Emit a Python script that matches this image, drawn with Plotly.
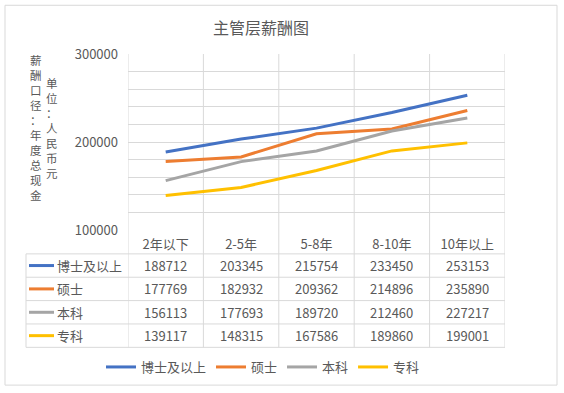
import plotly.graph_objects as go

categories = ["2年以下", "2-5年", "5-8年", "8-10年", "10年以上"]
series_names = ["博士及以上", "硕士", "本科", "专科"]
doctor = [188712, 203345, 215754, 233450, 253153]
master = [177769, 182932, 209362, 214896, 235890]
bachelor = [156113, 177693, 189720, 212460, 227217]
college = [139117, 148315, 167586, 189860, 199001]
series_values = [doctor, master, bachelor, college]
colors = ["#4472C4", "#ED7D31", "#A5A5A5", "#FFC000"]

title_text = "主管层薪酬图"
ytitle1 = "薪酬口径：年度总现金"
ytitle2 = "单位：人民币元"

W, H = 564, 393
L, R, T, B = 128, 59, 54, 162
plot_h = H - T - B
plot_w = W - L - R
TEXT = "#595959"
GRID = "#D9D9D9"
FONT = "Noto Sans CJK SC"


def py(p):
    return (H - B - p) / plot_h


def px(p):
    return (p - L) / plot_w


fig = go.Figure()
for name, vals, c in zip(series_names, series_values, colors):
    fig.add_trace(go.Scatter(x=categories, y=vals, name=name, mode="lines",
                             line=dict(color=c, width=3)))

shapes = []
# outer chart border
shapes.append(dict(type="rect", xref="paper", yref="paper", x0=px(5), x1=px(557),
                   y0=py(387), y1=py(5), line=dict(color=GRID, width=1), layer="below"))
# vertical grid / table column lines
row_lines = [255, 278.5, 302, 325.5, 349]
for k in range(len(categories) + 1):
    shapes.append(dict(type="line", xref="x", yref="paper", x0=k - 0.5, x1=k - 0.5,
                       y0=py(row_lines[-1]), y1=1, line=dict(color=GRID, width=1), layer="below"))
# table horizontal lines
for r in row_lines:
    shapes.append(dict(type="line", xref="paper", yref="paper", x0=px(26), x1=1,
                       y0=py(r), y1=py(r), line=dict(color=GRID, width=1), layer="below"))
shapes.append(dict(type="line", xref="paper", yref="paper", x0=px(26), x1=px(26),
                   y0=py(row_lines[0]), y1=py(row_lines[-1]), line=dict(color=GRID, width=1)))

annotations = []
for i, (name, vals, c) in enumerate(zip(series_names, series_values, colors)):
    yc = py((row_lines[i] + row_lines[i + 1]) / 2)
    shapes.append(dict(type="line", xref="paper", yref="paper", x0=px(29), x1=px(54),
                       y0=yc, y1=yc, line=dict(color=c, width=3)))
    annotations.append(dict(xref="paper", yref="paper", x=px(55), y=yc, text=name,
                            showarrow=False, xanchor="left", yanchor="middle",
                            font=dict(size=13, color=TEXT, family=FONT)))
    for cat, v in zip(categories, vals):
        annotations.append(dict(xref="x", yref="paper", x=cat, y=yc, text=str(v),
                                showarrow=False, xanchor="center", yanchor="middle",
                                font=dict(size=13, color=TEXT, family=FONT)))

annotations.append(dict(xref="paper", yref="paper", x=px(36), y=py(128), text="<br>".join(ytitle1),
                        showarrow=False, xanchor="center", yanchor="middle",
                        font=dict(size=11.5, color=TEXT, family=FONT)))
annotations.append(dict(xref="paper", yref="paper", x=px(52), y=py(128.5), text="<br>".join(ytitle2),
                        showarrow=False, xanchor="center", yanchor="middle",
                        font=dict(size=11.5, color=TEXT, family=FONT)))

fig.update_layout(
    width=W, height=H,
    margin=dict(l=L, r=R, t=T, b=B),
    paper_bgcolor="white", plot_bgcolor="white",
    font=dict(family=FONT, color=TEXT, size=13),
    title=dict(text=title_text, x=px(261), xref="paper", xanchor="center",
               y=1 - 28 / H, yanchor="middle", font=dict(size=16, color=TEXT, family=FONT)),
    xaxis=dict(type="category", range=[-0.5, 4.5], showgrid=False, zeroline=False,
               showline=False, ticks="", ticklabelstandoff=5, tickfont=dict(size=13, color=TEXT)),
    yaxis=dict(range=[100000, 300000], dtick=100000, tickformat="d", showgrid=True,
               gridcolor=GRID, gridwidth=1, zeroline=False, showline=False, ticks="",
               ticklabelstandoff=9, tickfont=dict(size=13, color=TEXT),
               minor=dict(dtick=20000, showgrid=True, gridcolor=GRID, gridwidth=1)),
    legend=dict(orientation="h", x=px(263), xanchor="center", y=py(367), yanchor="middle",
                font=dict(size=13, color=TEXT), itemwidth=30, bgcolor="rgba(0,0,0,0)"),
    shapes=shapes,
    annotations=annotations,
)

fig.write_html("out.html", config={"displayModeBar": False},
               post_script="document.body.style.margin='0';")
